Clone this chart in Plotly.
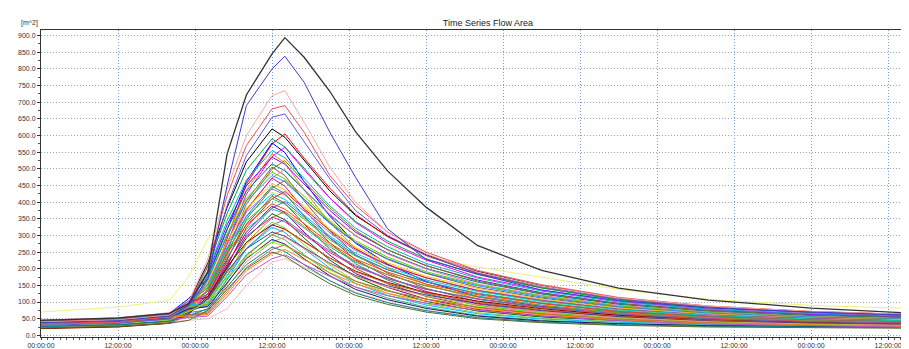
import pandas as pd
import plotly.graph_objects as go

# time of each sample, hours after the first 00:00:00
hours = [0, 12, 20, 23, 26, 29, 32, 36, 38, 41, 45, 49, 54, 60, 68, 78, 90, 104, 120, 136.5]

# flow area [m^2] per simulated event
s01 = [42,48,62,100,217,384,521,620,595,527,434,360,298,242,192,149,112,87,71,62]
s02 = [36,41,55,85,133,290,454,575,605,532,442,363,296,240,186,143,108,84,69,58]
s03 = [30,36,50,92,207,366,496,590,566,502,413,342,283,230,183,142,106,83,68,59]
s04 = [45,50,66,110,173,318,462,578,549,462,358,277,214,162,116,87,69,58,52,49]
s05 = [28,33,45,70,124,271,424,537,565,497,412,339,277,226,175,136,102,79,65,57]
s06 = [38,44,58,96,194,344,466,555,533,472,389,322,266,216,172,133,100,78,64,56]
s07 = [25,30,42,75,164,300,436,545,518,436,338,262,202,153,109,82,65,55,49,46]
s08 = [33,39,52,88,187,332,449,535,514,455,375,310,257,209,166,128,96,75,62,54]
s09 = [40,46,60,90,116,252,394,499,525,462,383,315,257,210,163,126,95,74,60,53]
s10 = [22,27,38,72,180,319,433,515,494,438,361,299,247,201,160,124,93,72,59,52]
s11 = [35,41,55,95,152,278,404,505,480,404,313,242,187,141,101,76,61,51,45,43]
s12 = [46,52,68,100,110,239,374,473,498,438,364,299,244,199,154,120,90,70,57,50]
s13 = [31,36,48,82,172,304,412,490,470,417,343,284,235,191,152,118,88,69,56,49]
s14 = [27,32,44,78,168,298,403,480,461,408,336,278,230,187,149,115,86,67,55,48]
s15 = [42,47,60,98,142,260,378,472,448,378,293,227,175,132,94,71,57,47,42,40]
s16 = [34,40,53,80,102,223,349,442,465,409,339,279,228,186,144,112,84,65,53,47]
s17 = [24,29,40,70,159,282,382,455,437,387,319,264,218,177,141,109,82,64,52,46]
s18 = [38,43,57,92,134,246,358,448,426,358,278,215,166,125,90,67,54,45,40,38]
s19 = [44,50,64,104,154,273,370,440,422,374,308,255,211,172,136,106,79,62,51,44]
s20 = [29,34,46,72,95,207,324,410,432,380,315,259,212,173,134,104,78,60,50,43]
s21 = [36,42,55,90,149,264,357,425,408,361,298,247,204,166,132,102,77,60,49,43]
s22 = [20,25,36,62,125,230,334,418,397,334,259,201,155,117,84,63,50,42,38,36]
s23 = [40,46,60,96,144,254,344,410,394,349,287,238,197,160,127,98,74,57,47,41]
s24 = [32,37,50,76,88,193,302,382,402,354,293,241,197,161,125,96,72,56,46,40]
s25 = [26,31,42,74,138,245,332,395,379,336,277,229,190,154,122,95,71,55,45,40]
s26 = [43,49,63,100,116,213,310,388,369,310,241,186,144,109,78,58,47,39,35,33]
s27 = [30,35,47,80,133,236,319,380,365,323,266,220,182,148,118,91,68,53,44,38]
s28 = [37,43,56,84,95,179,279,353,372,327,272,223,182,149,115,89,67,52,43,37]
s29 = [23,28,39,66,110,201,292,365,347,292,226,175,135,102,73,55,44,37,33,31]
s30 = [41,47,61,94,124,220,298,355,341,302,249,206,170,138,110,85,64,50,41,36]
s31 = [28,33,45,68,77,167,261,331,348,306,254,209,171,139,108,84,63,49,40,35]
s32 = [35,40,53,86,102,187,272,340,323,272,211,163,126,95,68,51,41,34,31,29]
s33 = [21,26,37,64,116,206,279,332,319,282,232,193,159,129,103,80,60,46,38,33]
s34 = [39,45,58,90,98,179,260,325,309,260,202,156,120,91,65,49,39,33,29,28]
s35 = [33,38,50,62,70,153,239,302,318,280,232,191,156,127,99,76,57,45,37,32]
s36 = [27,32,43,70,109,192,260,310,298,264,217,180,149,121,96,74,56,43,36,31]
s37 = [44,50,62,88,91,166,242,302,287,242,187,145,112,85,60,45,36,30,27,26]
s38 = [24,29,40,55,65,142,221,280,295,260,215,177,145,118,91,71,53,41,34,30]
s39 = [36,41,53,80,86,158,230,288,274,230,179,138,107,81,58,43,35,29,26,24]
s40 = [30,35,46,72,98,174,235,280,269,238,196,162,134,109,87,67,50,39,32,28]
s41 = [42,47,58,60,66,131,204,258,272,239,199,163,133,109,84,65,49,38,31,27]
s42 = [26,31,42,58,80,146,212,265,252,212,164,127,98,74,53,40,32,27,24,23]
s43 = [38,44,55,58,62,124,194,245,258,227,188,155,126,103,80,62,46,36,30,26]
s44 = [22,27,36,45,75,138,200,250,238,200,155,120,93,70,50,38,30,25,23,21]
s45 = [34,39,48,52,58,116,182,230,242,213,177,145,119,97,75,58,44,34,28,24]

# events standing apart from the bundle
pale_yellow = [70,85,105,175,290,360,410,430,420,390,345,305,268,235,205,175,138,108,90,80]
pale_pink = [25,30,40,45,50,80,150,220,230,205,165,130,100,75,55,42,35,30,27,25]
violet = [30,36,50,88,190,390,540,655,665,580,470,375,300,240,188,146,110,86,70,60]
red_high = [35,40,55,95,210,420,570,680,690,610,480,390,310,250,195,152,114,88,72,62]
salmon_high = [40,46,60,100,230,440,600,720,735,640,505,400,310,245,190,148,112,88,72,62]
blue_high = [38,44,58,90,170,450,690,800,838,760,610,475,320,228,184,136,104,82,70,60]
black_max = [45,52,66,95,190,545,722,845,894,835,733,612,494,385,270,195,142,106,82,66]

bundle = [s01, s02, s03, s04, s05, s06, s07, s08, s09, s10, s11, s12, s13, s14, s15,
          s16, s17, s18, s19, s20, s21, s22, s23, s24, s25, s26, s27, s28, s29, s30,
          s31, s32, s33, s34, s35, s36, s37, s38, s39, s40, s41, s42, s43, s44, s45]

palette = ['#000000', '#ff0000', '#00a651', '#0000ff', '#ff00ff', '#00b7c3', '#ff7f00',
           '#7f00ff', '#808000', '#008080', '#a0522d', '#ff69b4', '#66cc00', '#1e90ff',
           '#c71585', '#696969', '#ffc000', '#2e8b57', '#9370db', '#dc143c', '#00ced1',
           '#8b4513', '#32cd32', '#4169e1', '#ff4500', '#800080', '#20b2aa', '#b8860b',
           '#006400', '#ff1493', '#4682b4', '#9acd32', '#8b0000', '#00bfff', '#d2691e',
           '#483d8b', '#3cb371', '#e9967a', '#191970', '#7fff00', '#cd5c5c', '#008b8b',
           '#ff8c00', '#556b2f', '#ba55d3']

base = pd.Timestamp("2021-01-01 00:00:00")
times = base + pd.to_timedelta(hours, unit="h")

fig = go.Figure()


def add(vals, color, width=1.0):
    fig.add_trace(go.Scatter(x=times, y=vals, mode="lines",
                             line=dict(color=color, width=width),
                             hoverinfo="skip", showlegend=False))


add(pale_yellow, "#f3ee7a")
add(pale_pink, "#ffb6b6")
for i, s in enumerate(bundle):
    add(s, palette[i % len(palette)])
add(violet, "#5a5ae6")
add(red_high, "#f05050")
add(salmon_high, "#f7a8a8")
add(blue_high, "#3b3bd0")
add(black_max, "#333333", 1.3)

hgrid = "#8ea6c6"
vgrid = "#6f9fd6"
fig.update_layout(
    width=909, height=349,
    margin=dict(l=33, r=0, t=22, b=20),
    paper_bgcolor="white", plot_bgcolor="white",
    font=dict(family="Liberation Sans, Arial, sans-serif", size=7, color="#333"),
    title=dict(text="Time Series Flow Area", x=0.528, y=0.957,
               xanchor="center", yanchor="middle",
               font=dict(size=9, color="#222")),
    xaxis=dict(
        range=[base, base + pd.Timedelta(hours=136.5)],
        type="date", tickformat="%H:%M:%S", dtick=43200000, tick0=base,
        showgrid=True, gridcolor=vgrid, griddash="1px,2px", gridwidth=1,
        showline=True, linecolor="#333", linewidth=1, mirror=True,
        ticks="outside", ticklen=2, tickcolor="#333",
        minor=dict(ticks="outside", dtick=3600000, ticklen=2, tickcolor="#555", showgrid=False),
        tickfont=dict(size=7, color="#333"), automargin=False, zeroline=False,
    ),
    yaxis=dict(
        range=[-5, 917], dtick=50, tick0=0, tickformat=".1f",
        showgrid=True, gridcolor=hgrid, griddash="1px,2px", gridwidth=1,
        showline=True, linecolor="#333", linewidth=1,
        ticks="outside", ticklen=3, tickcolor="#333",
        minor=dict(ticks="outside", dtick=25, ticklen=2, tickcolor="#555", showgrid=False),
        tickfont=dict(size=7, color="#333"), automargin=False, zeroline=False,
    ),
    annotations=[dict(text="[m^2]", xref="paper", yref="paper", x=0, y=1,
                      xanchor="center", yanchor="middle", xshift=-12, yshift=7,
                      showarrow=False, font=dict(size=7, color="#333"))],
)

fig.write_html("out.html")
